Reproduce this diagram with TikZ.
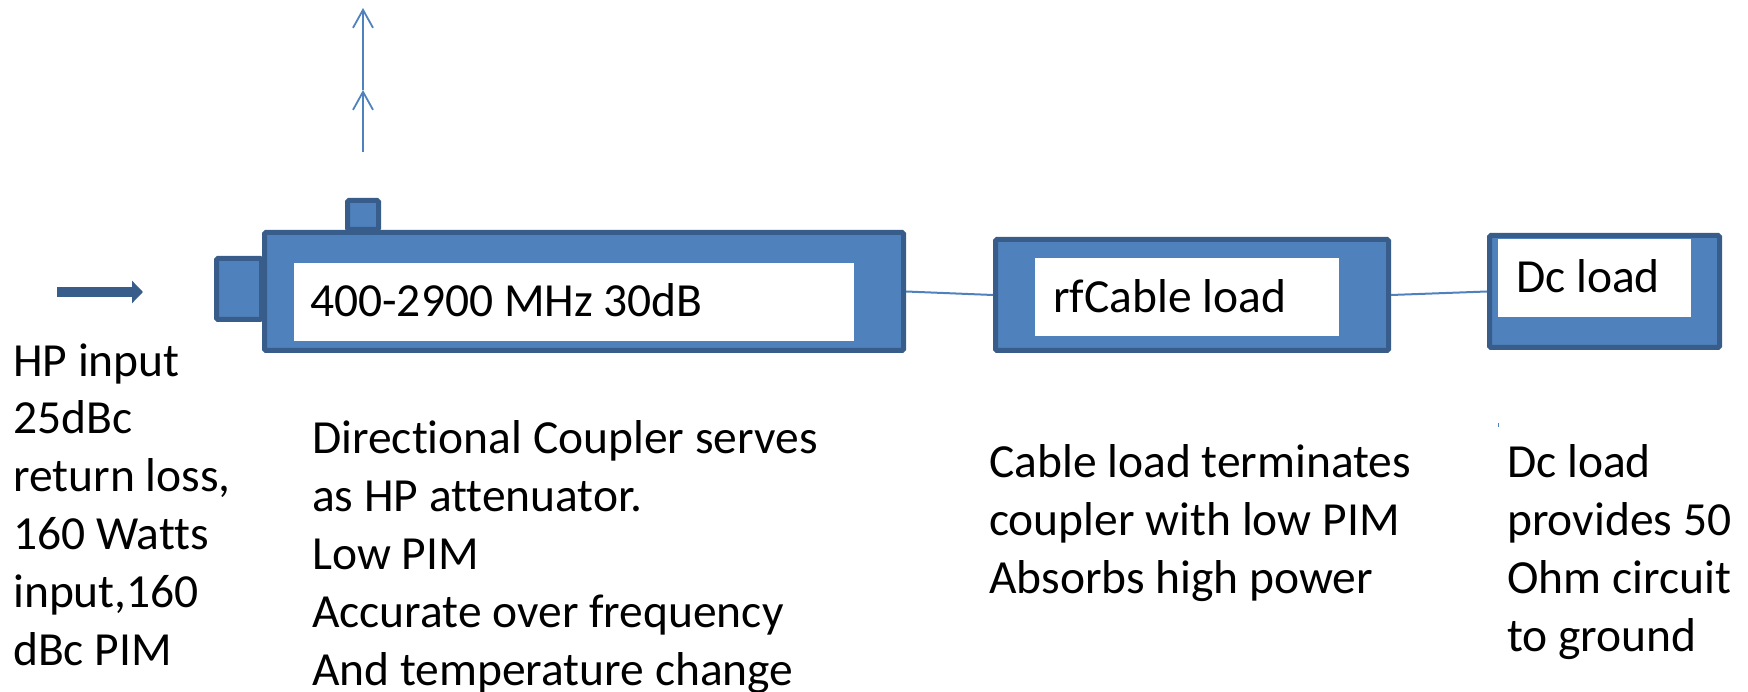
\documentclass[tikz,border=0pt]{standalone}
\usepackage{fontspec}
\setmainfont{Carlito}[Ligatures=CommonOff]
\usepackage{tikz}
\usetikzlibrary{positioning, arrows.meta, calc}
\definecolor{blockFill}{HTML}{4F81BD}
\definecolor{blockBord}{HTML}{385D8A}
\tikzstyle{blockBody}=[draw=blockBord, fill=blockFill, line width=5pt,
  rounded corners=1.5pt, inner sep=0pt, outer sep=2.5pt]
\tikzstyle{blockWindow}=[fill=white, inner sep=0pt, outer sep=0pt]
\tikzstyle{blockLabel}=[anchor=base west, inner sep=0pt,
  font=\fontsize{47.5}{57.8}\selectfont]
% multi-line notes sit on the baseline of their last line
\tikzstyle{noteText}=[anchor=base west, inner sep=0pt, align=left,
  font=\fontsize{47.5}{57.8}\selectfont]
\tikzstyle{wireLine}=[draw=blockFill, line width=2pt]
\tikzstyle{probeArrow}=[-{Straight Barb[length=18pt, width=20pt]},
  draw=blockFill, line width=1.8pt]
\tikzstyle{feedArrow}=[-{Triangle[length=11pt, width=22pt]},
  draw=blockBord, line width=10pt]

\begin{document}
\begin{tikzpicture}[x=1pt, y=-1pt]
      \useasboundingbox (0,0) rectangle (1748,692);

      % stubs of the coupler
      \node[blockBody, minimum width=31pt, minimum height=29pt] (probeStub) at (363,215) {};
      \node[blockBody, minimum width=45pt, minimum height=61pt] (inStub) at (239,289) {};

      % coupler
      \node[blockBody, minimum width=639pt, minimum height=118pt] (coupler) at (584,291.5) {};
      \node[blockWindow, minimum width=560pt, minimum height=78pt] (couplerWin) at (574,302) {};
      \node[blockLabel] (couplerTxt) at (310,317) {400-2900 MHz 30dB};

      % rf cable load
      \node[blockBody, minimum width=393pt, minimum height=111pt] (rfLoad) at (1192,295) {};
      \node[blockWindow, minimum width=304pt, minimum height=78pt] (rfWin) at (1187,297) {};
      \node[blockLabel] (rfTxt) at (1053,313) {rfCable load};

      % dc load
      \node[blockBody, minimum width=230pt, minimum height=112pt] (dcLoad) at (1604.5,291.5) {};
      \node[blockWindow, minimum width=193pt, minimum height=78pt] (dcWin) at (1594.5,278) {};
      \node[blockLabel] (dcTxt) at (1516,293) {Dc load};

      \draw[wireLine] (coupler.east) -- (rfLoad.west);
      \draw[wireLine] (rfLoad.east) -- (dcLoad.west);

      % coupled port arrow
      \coordinate (probeFoot) at (363,152);
      \coordinate (probeMid) at (363,90);
      \coordinate (probeTip) at (363,8);
      \draw[probeArrow] (probeFoot) -- (probeMid);
      \draw[probeArrow] (probeMid) -- (probeTip);

      % input arrow
      \coordinate (feedStart) at (57,292);
      \coordinate (feedEnd) at (143,292);
      \draw[feedArrow] (feedStart) -- (feedEnd);

      \draw[blockFill, line width=1pt] (1498,423) -- (1498,426.5);

      % notes
      \node[noteText] (feedNote) at (13,665) {HP input\\25dBc\\return loss,\\160 Watts\\input,160\\dBc PIM};
      \node[noteText] (couplerNote) at (312,685) {Directional Coupler serves\\as HP attenuator.\\Low PIM\\Accurate over frequency\\And temperature change};
      \node[noteText] (rfNote) at (989,593) {Cable load terminates\\coupler with low PIM\\Absorbs high power};
      \node[noteText] (dcNote) at (1507,651) {Dc load\\provides 50\\Ohm circuit\\to ground};
    \end{tikzpicture}
\end{document}
